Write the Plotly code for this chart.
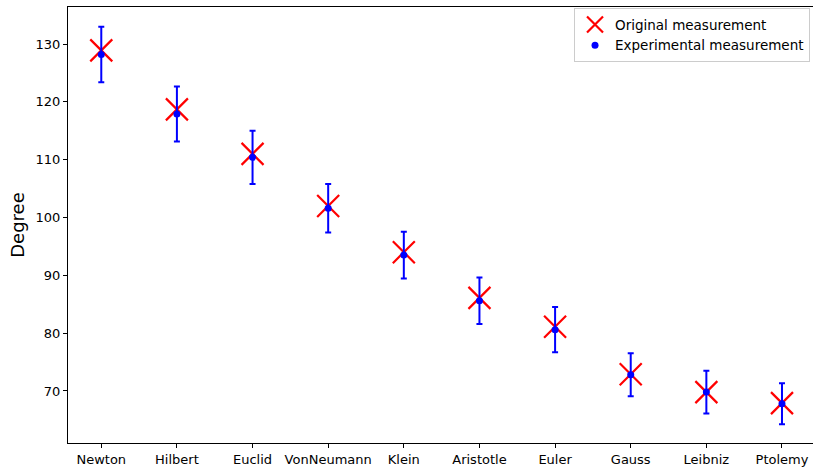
import plotly.graph_objects as go

names = ["Newton", "Hilbert", "Euclid", "VonNeumann", "Klein", "Aristotle",
         "Euler", "Gauss", "Leibniz", "Ptolemy"]
original = [128.9, 118.7, 111.0, 102.0, 94.0, 86.1, 81.1, 72.9, 69.8, 67.9]
experimental = [128.2, 117.9, 110.4, 101.6, 93.5, 85.6, 80.6, 72.8, 69.8, 67.8]
errors = [4.8, 4.75, 4.6, 4.2, 4.05, 4.0, 3.9, 3.7, 3.7, 3.55]
yticks = [70, 80, 90, 100, 110, 120, 130]

idx = list(range(len(names)))

fig = go.Figure()
fig.add_trace(go.Scatter(
    x=idx, y=original, mode="markers", name="Original measurement",
    marker=dict(symbol="x-thin-open", size=22, color="red",
                line=dict(color="red", width=2.2)),
))
fig.add_trace(go.Scatter(
    x=idx, y=experimental, mode="markers", name="Experimental measurement",
    marker=dict(symbol="circle", size=7, color="blue"),
    error_y=dict(type="data", array=errors, visible=True, color="blue",
                 thickness=2, width=3),
))

fig.update_layout(
    width=813, height=469,
    margin=dict(l=68, r=0, t=7, b=26),
    plot_bgcolor="white", paper_bgcolor="white",
    font=dict(family="DejaVu Sans", size=13, color="black"),
    showlegend=True,
    legend=dict(x=0.996, y=0.997, xanchor="right", yanchor="top",
                bordercolor="#cccccc", borderwidth=1, bgcolor="white",
                font=dict(size=13.5), tracegroupgap=0),
    xaxis=dict(range=[-0.44, 9.41], tickmode="array", tickvals=idx,
               ticktext=names, showgrid=False, zeroline=False,
               showline=True, linecolor="black", linewidth=1, mirror=True,
               ticks="outside", ticklen=4, tickcolor="black"),
    yaxis=dict(range=[61.0, 136.4], tickmode="array", tickvals=yticks,
               showgrid=False, zeroline=False,
               showline=True, linecolor="black", linewidth=1, mirror=True,
               ticks="outside", ticklen=4, tickcolor="black",
               title=dict(text="Degree", font=dict(size=18), standoff=6)),
)

fig.write_html("out.html", config={"displayModeBar": False},
               post_script="document.body.style.margin='0';")
